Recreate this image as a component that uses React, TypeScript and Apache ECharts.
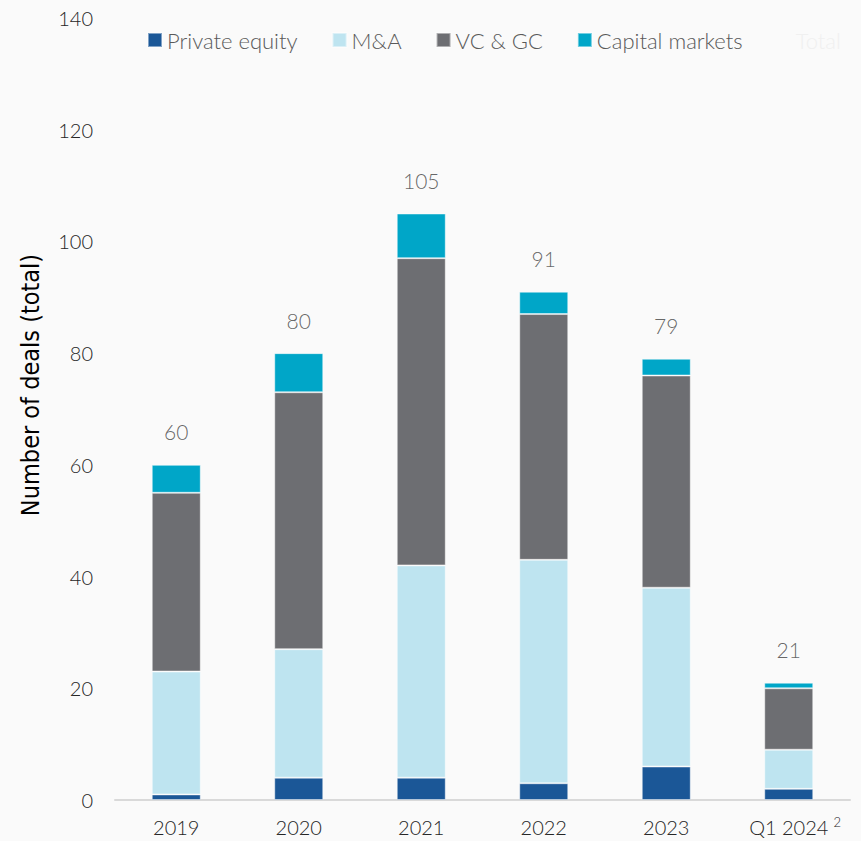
import React, { useEffect, useRef } from "react";
import * as echarts from "echarts";

const categories = ["2019", "2020", "2021", "2022", "2023", "Q1 2024"];
const privateEquity = [1, 4, 4, 3, 6, 2];
const mna = [22, 23, 38, 40, 32, 7];
const vcgc = [32, 46, 55, 44, 38, 11];
const capitalMarkets = [5, 7, 8, 4, 3, 1];
const totals = [60, 80, 105, 91, 79, 21];
const yTicks = { min: 0, max: 140, interval: 20 };

const FONT = "Lato, 'Open Sans', sans-serif";

export default function App() {
  const ref = useRef<HTMLDivElement>(null);
  useEffect(() => {
    document.body.style.margin = "0";
    document.body.style.background = "#fafafa";
    const chart = echarts.init(ref.current!, null, { renderer: "svg" });
    const barCommon = {
      type: "bar",
      stack: "deals",
      barWidth: "40%",
      itemStyle: { borderColor: "rgba(255,255,255,0.45)", borderWidth: 1 },
    };
    chart.setOption({
      animation: false,
      backgroundColor: "#fafafa",
      textStyle: { fontFamily: FONT },
      legend: {
        left: 142,
        top: 24,
        width: 1000,
        icon: "rect",
        itemWidth: 14,
        itemHeight: 14,
        itemGap: 34,
        textStyle: { fontSize: 22, color: "#595959", fontFamily: FONT, fontWeight: 300 },
        data: [
          "Private equity",
          "M&A",
          "VC & GC",
          "Capital markets",
          {
            name: "Total",
            itemStyle: { color: "#fafafa" },
            textStyle: { color: "#f0f0f0" },
          },
        ],
      },
      grid: { left: 115, right: 11, top: 18, bottom: 41 },
      xAxis: {
        type: "category",
        data: categories,
        axisLine: { lineStyle: { color: "#d9d9d9", width: 2 } },
        axisTick: { show: false },
        axisLabel: {
          interval: 0,
          fontSize: 20,
          lineHeight: 24,
          color: "#262626",
          fontWeight: 300,
          margin: 15,
          fontFamily: FONT,
          formatter: (v: string) =>
            v === "Q1 2024" ? "{pad|}{main|Q1 2024}{sup|2}" : v,
          rich: {
            pad: { width: 12, fontSize: 20, lineHeight: 24 },
            main: { fontSize: 20, lineHeight: 24, color: "#262626", fontWeight: 300, fontFamily: FONT },
            sup: {
              fontSize: 13,
              lineHeight: 13,
              verticalAlign: "top",
              color: "#262626",
              fontWeight: 300,
              padding: [0, 0, 0, 6],
              width: 6,
            },
          },
        },
      },
      yAxis: {
        type: "value",
        min: yTicks.min,
        max: yTicks.max,
        interval: yTicks.interval,
        splitLine: { show: false },
        axisLine: { show: false },
        axisTick: { show: false },
        axisLabel: { fontSize: 20, color: "#262626", fontWeight: 300, margin: 22, fontFamily: FONT },
      },
      graphic: [
        {
          type: "text",
          x: 30,
          y: 385,
          rotation: Math.PI / 2,
          style: {
            text: "Number of deals (total)",
            fontSize: 25,
            fill: "#000",
            fontFamily: "'Liberation Sans Narrow', 'DejaVu Sans Condensed', sans-serif",
            align: "center",
            verticalAlign: "middle",
          },
        },
      ],
      series: [
        { ...barCommon, name: "Private equity", data: privateEquity, itemStyle: { ...barCommon.itemStyle, color: "#1b5797" } },
        { ...barCommon, name: "M&A", data: mna, itemStyle: { ...barCommon.itemStyle, color: "#bee4f0" } },
        { ...barCommon, name: "VC & GC", data: vcgc, itemStyle: { ...barCommon.itemStyle, color: "#6d6e72" } },
        { ...barCommon, name: "Capital markets", data: capitalMarkets, itemStyle: { ...barCommon.itemStyle, color: "#00a6c8" } },
        {
          name: "Total",
          type: "scatter",
          data: totals,
          symbolSize: 1,
          itemStyle: { color: "rgba(0,0,0,0)" },
          label: {
            show: true,
            position: "top",
            distance: 22,
            fontSize: 21,
            color: "#404040",
            fontWeight: 300,
            fontFamily: FONT,
          },
        },
      ],
    });
    return () => chart.dispose();
  }, []);
  return <div ref={ref} style={{ width: 861, height: 841 }} />;
}
